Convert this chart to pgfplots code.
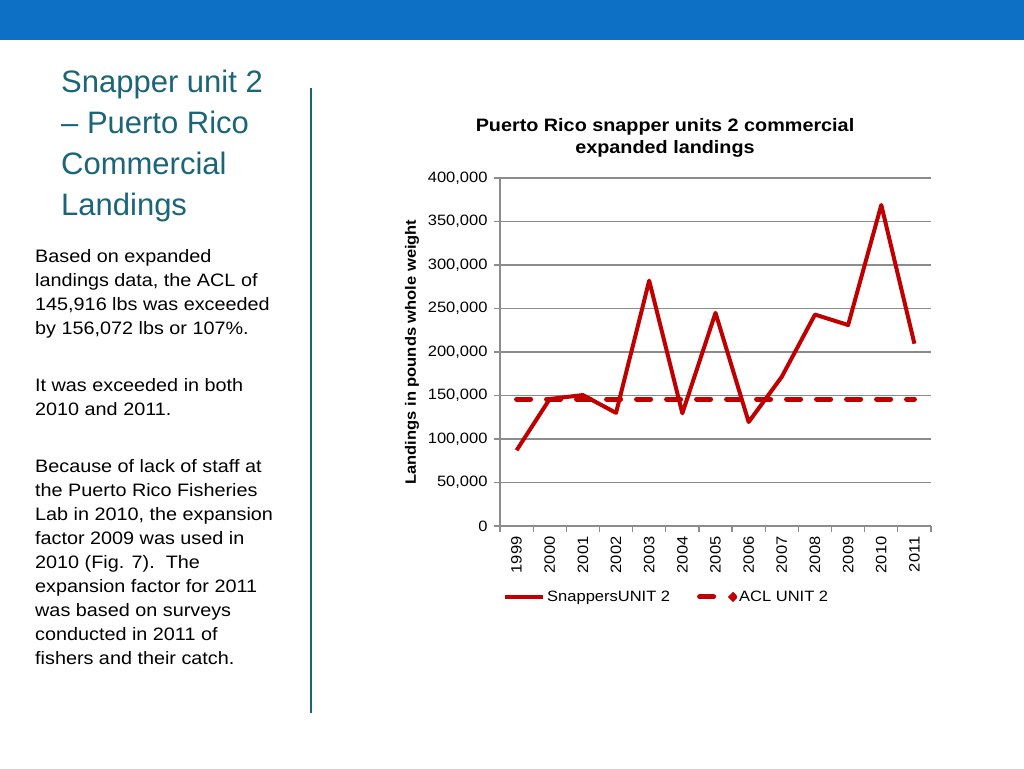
\documentclass[border=0pt]{standalone}
\usepackage{pgfplots}
\pgfplotsset{compat=1.18}
\usepackage{fontspec}
\setmainfont{Liberation Sans}[FakeStretch=1.1]
\newfontfamily\titlefont{Liberation Sans}
\definecolor{band}{RGB}{14,112,196}
\definecolor{tealc}{RGB}{27,101,121}
\definecolor{redline}{RGB}{192,0,0}
\definecolor{gridgrey}{RGB}{140,140,140}
\begin{document}
\begin{tikzpicture}[x=1pt,y=1pt]
\fill[white] (0,0) rectangle (1024,768);
\fill[band] (0,728) rectangle (1024,768);
\draw[tealc, line width=2.5pt] (311,768-88) -- (311,768-713);
% slide title
\begin{scope}[every node/.style={anchor=base west, inner sep=0pt, text=tealc, font=\titlefont\fontsize{31}{41}\selectfont}]
\node at (61,768-93) {Snapper unit 2};
\node at (61,768-134) {– Puerto Rico};
\node at (61,768-175) {Commercial};
\node at (61,768-216) {Landings};
\end{scope}
% body text
\begin{scope}[every node/.style={anchor=base west, inner sep=0pt, font=\fontsize{18}{24}\selectfont}]
\node at (35,768-262.3) {Based on expanded};
\node at (35,768-286.3) {landings data, the ACL of};
\node at (35,768-310.3) {145,916 lbs was exceeded};
\node at (35,768-334.3) {by 156,072 lbs or 107\%.};
\node at (35,768-391.7) {It was exceeded in both};
\node at (35,768-415.7) {2010 and 2011.};
\node at (35,768-472.3) {Because of lack of staff at};
\node at (35,768-496.3) {the Puerto Rico Fisheries};
\node at (35,768-520.3) {Lab in 2010, the expansion};
\node at (35,768-544.3) {factor 2009 was used in};
\node at (35,768-568.3) {2010 (Fig. 7).\ \ The};
\node at (35,768-592.3) {expansion factor for 2011};
\node at (35,768-616.3) {was based on surveys};
\node at (35,768-640.3) {conducted in 2011 of};
\node at (35,768-664.3) {fishers and their catch.};
\end{scope}
% chart title
\node[anchor=base, inner sep=0pt, font=\bfseries\fontsize{18}{22}\selectfont] at (665,768-131.7) {Puerto Rico snapper units 2 commercial};
\node[anchor=base, inner sep=0pt, font=\bfseries\fontsize{18}{22}\selectfont] at (665,768-153.3) {expanded landings};
\begin{axis}[
  at={(500pt,242pt)}, anchor=south west,
  width=431pt, height=348pt, scale only axis,
  xmin=-0.5, xmax=12.5, ymin=0, ymax=400000,
  axis x line*=bottom, axis y line*=left,
  axis line style={gridgrey, line width=1.2pt, -},
  ymajorgrids, major grid style={gridgrey, line width=1.2pt},
  tick style={gridgrey, line width=1.2pt},
  tick align=outside, major tick length=6pt,
  ytick={0,50000,100000,150000,200000,250000,300000,350000,400000},
  scaled y ticks=false,
  yticklabel style={xshift=-3pt, /pgf/number format/fixed, /pgf/number format/1000 sep={,}, /pgf/number format/assume math mode=true},
  xtick={-0.5,0.5,1.5,2.5,3.5,4.5,5.5,6.5,7.5,8.5,9.5,10.5,11.5,12.5},
  x tick label as interval,
  xticklabels={1999,2000,2001,2002,2003,2004,2005,2006,2007,2008,2009,2010,2011},
  xticklabel style={rotate=90, anchor=east, xshift=-1pt},
  tick label style={font=\fontsize{15}{18}\selectfont, text=black},
  ylabel={Landings in pounds whole weight},
  ylabel style={font=\bfseries\fontsize{15}{18}\selectfont, at={(axis description cs:-0.204,0.5)}, anchor=center},
  legend style={draw=none, fill=none, at={(axis description cs:0.007,-0.204)}, anchor=west,
    legend columns=2, font=\fontsize{15}{18}\selectfont,
    /tikz/every even column/.append style={column sep=25pt},
    inner sep=0pt, nodes={inner sep=2pt}},
  clip=false,
]
\addplot[redline, line width=4pt, line join=round,
  legend image code/.code={\draw[redline, line width=4pt] (0pt,0pt) -- (38pt,0pt);}]
  coordinates {(0,87000) (1,146000) (2,150500) (3,130000) (4,282000) (5,129500) (6,245000) (7,119500) (8,171600) (9,243000) (10,231000) (11,369000) (12,209500)};
\addlegendentry{SnappersUNIT 2}
\addplot[redline, line width=5pt, line cap=round, dash pattern=on 14pt off 16pt,
  legend image code/.code={\draw[redline, line width=5pt, line cap=round, solid] (2.5pt,0pt) -- (16.5pt,0pt); \fill[redline] (36pt,0pt) circle (1.6pt);}]
  coordinates {(0,145916) (12,145916)};
\addlegendentry{ACL UNIT 2}
\end{axis}
\end{tikzpicture}
\end{document}
